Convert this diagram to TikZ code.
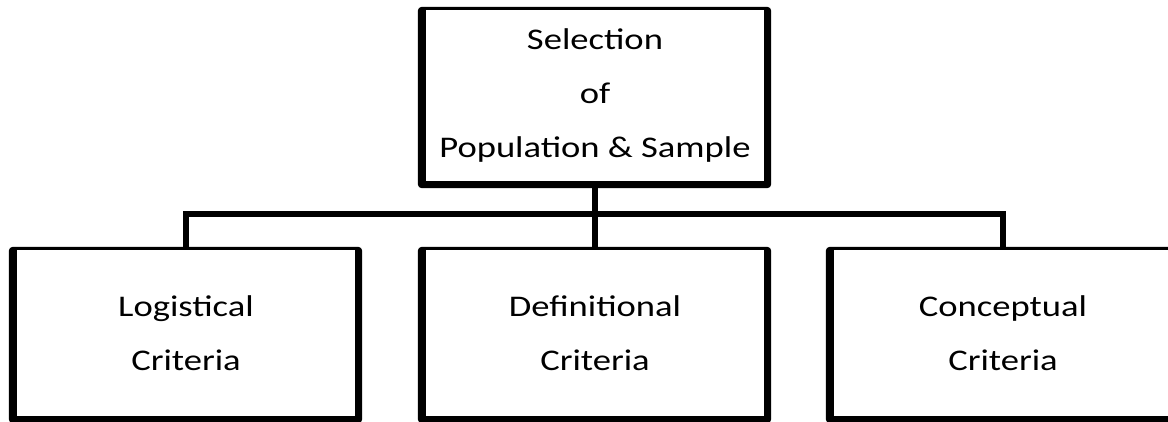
\documentclass[tikz,border=0pt]{standalone}
\usepackage{fontspec}
\setmainfont{Carlito}[FakeStretch=1.22]
\usetikzlibrary{backgrounds,calc}

\tikzset{
  % white panel; its black frame is drawn behind it (thin on top, heavy elsewhere)
  panel/.style={fill=white, inner sep=0pt, align=center,
    minimum width=338pt, font=\fontsize{30}{54}\selectfont},
  frame/.style={fill=black, rounded corners=4pt},
  conn/.style={draw=black, line width=6pt},
}

\begin{document}
\begin{tikzpicture}[x=1pt,y=-1pt]
  \useasboundingbox (0,0) rectangle (1168,421);

  % top box
  \node[panel, minimum height=171pt] (sel) at (595,95.5)
    {Selection\\of\\Population \& Sample};

  % criteria boxes
  \node[panel, minimum height=166pt] (log) at (186,333) {Logistical\\Criteria};
  \node[panel, minimum height=166pt] (def) at (595,333) {Definitional\\Criteria};
  \node[panel, minimum height=166pt] (con) at (1003,333) {Conceptual\\Criteria};

  % frames behind the panels
  \begin{scope}[on background layer]
    \foreach \n in {sel,log,def,con}
      \fill[frame] ($(\n.north west)+(-8,-3)$) rectangle ($(\n.south east)+(7,7)$);
  \end{scope}

  % connectors
  \coordinate (bus) at (595,213.5);
  \draw[conn] (sel.south) -- (def.north);
  \draw[conn] (log.north) |- (bus) -| (con.north);
\end{tikzpicture}
\end{document}
